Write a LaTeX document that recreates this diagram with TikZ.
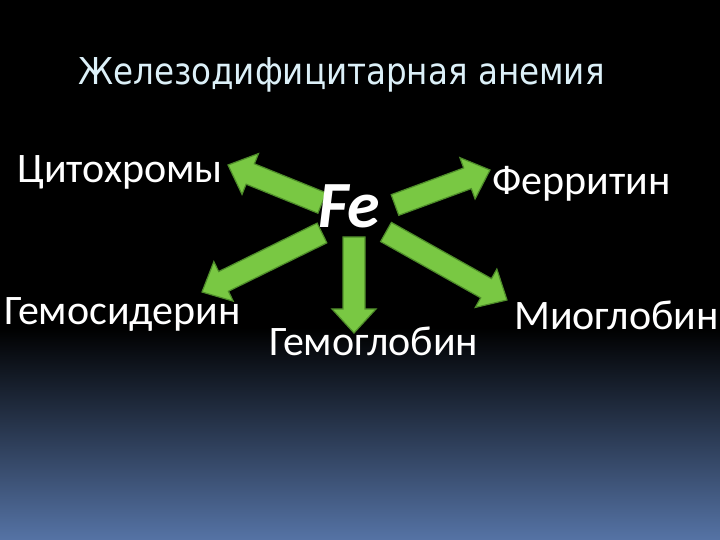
\documentclass[tikz,border=0pt]{standalone}
\usepackage{fontspec}
\setmainfont{Carlito}
\newfontfamily\titlefont[FakeStretch=0.88]{DejaVu Sans}
\usetikzlibrary{calc}
\definecolor{arrgreen}{HTML}{79C843}
\definecolor{arredge}{HTML}{4E8C2A}
\definecolor{titlecol}{HTML}{DCF0F8}
\definecolor{bgbottom}{HTML}{5573A5}
\tikzset{
  lbl/.style={anchor=base west, inner sep=0pt, text=white, font=\fontsize{42}{48}\selectfont},
  ttl/.style={anchor=base west, inner sep=0pt, text=titlecol, font=\titlefont\fontsize{37}{42}\selectfont},
  fe/.style={anchor=base west, inner sep=0pt, text=white, font=\bfseries\itshape\fontsize{66}{72}\selectfont},
  blockarrow/.style={fill=arrgreen, draw=arredge, line width=1.2pt, line join=miter}
}
\newcommand\blockarr[2]{%
  \path ($(#2)!24pt!(#1)$) coordinate (hb);
  \filldraw[blockarrow] ($(#1)!11pt!90:(#2)$) -- ($(hb)!11pt!90:(#2)$) -- ($(hb)!22pt!90:(#2)$) -- (#2) -- ($(hb)!22pt!-90:(#2)$) -- ($(hb)!11pt!-90:(#2)$) -- ($(#1)!11pt!-90:(#2)$) -- cycle;}
\begin{document}
\begin{tikzpicture}[x=1pt,y=1pt]
\useasboundingbox (0,0) rectangle (720,540);
\fill[black] (0,0) rectangle (720,540);
\shade[top color=black, bottom color=bgbottom] (0,0) rectangle (720,212);
\fill[black] (0,212) rectangle (720,540);
% title
\node[ttl] (title) at (78,455) {Железодифицитарная анемия};
% labels
\node[lbl] (cyto) at (17,357) {Цитохромы};
\node[lbl] (ferr) at (492,345) {Ферритин};
\node[lbl] (hemosid) at (4,215) {Гемосидерин};
\node[lbl] (hemoglob) at (269,184) {Гемоглобин};
\node[lbl] (myo) at (514,210) {Миоглобин};
% arrow endpoints
\coordinate (ulT) at (322,337); \coordinate (ulH) at (228,375);
\coordinate (llT) at (322,307); \coordinate (llH) at (202,248);
\coordinate (dT) at (354,303);  \coordinate (dH) at (354,207);
\coordinate (urT) at (395,335); \coordinate (urH) at (490,370);
\coordinate (lrT) at (386,308); \coordinate (lrH) at (507,240);
\blockarr{ulT}{ulH}
\blockarr{llT}{llH}
\blockarr{dT}{dH}
\blockarr{urT}{urH}
\blockarr{lrT}{lrH}
\node[fe] (fe) at (318,312) {Fe};
\end{tikzpicture}
\end{document}
